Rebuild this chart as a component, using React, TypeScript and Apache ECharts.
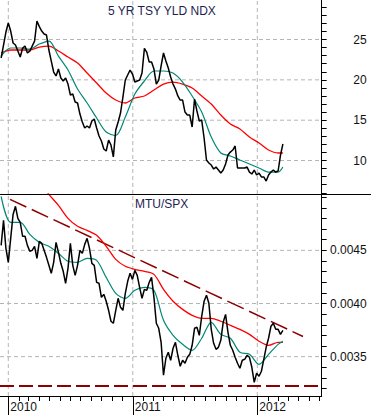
import React, { useEffect, useRef } from "react";
import * as echarts from "echarts";

// Weekly observations, first one on 2009-12-11
const startDate = "2009-12-11";

const tsyYield = [
  22.71, 24.32, 25.93, 27.05, 26.05, 24.57, 24.32, 23.57, 22.83, 23.95,
  24.19, 23.33, 23.57, 24.19, 24.81, 27.3, 26.6, 26.05, 25.68, 25.56,
  23.7, 22.33, 20.97, 20.48, 21.34, 20.23, 19.86, 20.23, 19.48, 18.12,
  18.24, 17.25, 17.13, 15.76, 14.77, 14.03, 14.28, 14.03, 14.9, 15.14,
  14.03, 13.04, 12.42, 11.43, 11.18, 12.54, 11.92, 10.45, 13.78, 14.77,
  15.89, 17.87, 19.98, 20.6, 21.22, 20.72, 19.73, 19.86, 19.98, 20.85,
  23.9, 23.4, 22.21, 22.21, 21.34, 19.48, 19.98, 21.72, 23.33, 22.33,
  21.47, 20.35, 19.48, 18.86, 18.0, 17.5, 17.5, 16.01, 15.64, 15.64,
  14.15, 17.62, 16.14, 14.9, 15.02, 12.79, 10.06, 9.69, 9.44, 8.95,
  9.19, 8.82, 8.45, 8.82, 9.57, 10.68, 11.05, 11.3, 11.8, 9.07,
  9.07, 9.07, 9.07, 9.19, 8.57, 8.33, 8.82, 8.2, 8.45, 7.96,
  7.96, 7.46, 8.2, 8.57, 8.82, 8.57, 8.7, 10.68, 12.05,
];

const mtuSpx = [
  0.004547, 0.004782, 0.004519, 0.004387, 0.004613, 0.004838, 0.004914, 0.004801, 0.004763, 0.004632,
  0.004632, 0.004547, 0.004491, 0.0045, 0.004538, 0.004425, 0.004585, 0.004566, 0.0045, 0.004434,
  0.004359, 0.004284, 0.004387, 0.004575, 0.004481, 0.004378, 0.004303, 0.00419, 0.004331, 0.004566,
  0.004359, 0.004265, 0.004359, 0.0045, 0.004472, 0.004556, 0.004613, 0.004519, 0.004378, 0.004359,
  0.004199, 0.00419, 0.004058, 0.004086, 0.004021, 0.003936, 0.003833, 0.003814, 0.003936, 0.004049,
  0.003964, 0.003936, 0.004096, 0.004209, 0.004284, 0.004227, 0.004312, 0.004265, 0.004152, 0.004049,
  0.004133, 0.004124, 0.004199, 0.004246, 0.004058, 0.003814, 0.003767, 0.003635, 0.003325, 0.003485,
  0.003541, 0.003466, 0.003579, 0.003635, 0.003513, 0.00341, 0.003466, 0.003438, 0.003494, 0.003522,
  0.003607, 0.003767, 0.003776, 0.003701, 0.00388, 0.004021, 0.004077, 0.004002, 0.003757, 0.003626,
  0.003569, 0.003588, 0.003654, 0.003823, 0.003898, 0.003729, 0.003607, 0.00356, 0.003494, 0.003438,
  0.003391, 0.003466, 0.003475, 0.003513, 0.003494, 0.0034, 0.003259, 0.003344, 0.003316, 0.003363,
  0.003475, 0.003588, 0.003673, 0.003786, 0.003814, 0.003757, 0.003757, 0.00371, 0.003748,
];

// Moving averages, read every 4th week (week index list)
const maWeeks = [0, 4, 8, 12, 16, 20, 24, 28, 32, 36, 40, 44, 48, 52, 56, 60, 64, 68, 72, 76, 80, 84, 88, 92, 96, 100, 104, 108, 112, 116, 118];

const tsyFastMA = [
  22.95, 23.95, 23.95, 23.82, 24.44, 24.81, 22.95, 21.22, 18.86, 17.13, 15.27, 13.53, 13.1, 15.39, 18.24, 19.86,
  21.1, 21.1, 20.85, 19.73, 18.0, 16.01, 12.91, 10.93, 10.56, 10.06, 9.57, 9.07, 8.57, 8.57, 9.19,
];
const tsySlowMA = [
  23.33, 23.7, 23.7, 23.7, 24.07, 24.19, 23.57, 22.83, 22.09, 20.85, 19.61, 18.37, 17.5, 17.13, 17.75, 18.0,
  18.74, 19.48, 19.73, 19.48, 18.99, 18.0, 17.0, 15.64, 14.53, 13.91, 12.91, 12.17, 11.3, 10.93, 10.93,
];
const mtuFastMA = [
  0.005008, 0.004763, 0.004763, 0.00465, 0.004575, 0.004538, 0.004472, 0.004397, 0.004387, 0.004425, 0.004406,
  0.004246, 0.004096, 0.004049, 0.004124, 0.004152, 0.004124, 0.003842, 0.003701, 0.003616, 0.00356, 0.003673,
  0.003823, 0.00371, 0.003673, 0.003541, 0.003522, 0.003428, 0.003522, 0.003616, 0.003645,
];
const mtuSlowMA = [
  null, null, null, null, 0.005158, 0.005026, 0.004923, 0.004801, 0.004726, 0.004688, 0.004641, 0.004538,
  0.004415, 0.00435, 0.004321, 0.004303, 0.004274, 0.004133, 0.004021, 0.003945, 0.003889, 0.003861, 0.003861,
  0.003833, 0.003795, 0.003757, 0.00371, 0.003645, 0.003607, 0.003635, 0.003635,
];

const trendDates = ["2010-01-06", "2012-05-14"];
const trendValues = [0.00498, 0.00369];
const supportLevel = 0.003225;

const yearLabels = [2010, 2011, 2012];
const tsyLabels = [10, 15, 20, 25];
const mtuLabels = [0.0035, 0.004, 0.0045];
const topTitle = "5 YR TSY YLD NDX";
const bottomTitle = "MTU/SPX";

const DAY = 86400000;
const ts = (s: string) => Date.parse(s + "T00:00:00Z");
const weekTs = (i: number) => ts(startDate) + i * 7 * DAY;

export default function App() {
  const ref = useRef<HTMLDivElement>(null);
  useEffect(() => {
    if (!ref.current) return;
    const chart = echarts.init(ref.current, null, { renderer: "svg" });
    const xMin = Date.UTC(2009, 11, 7, 16);
    const xMax = Date.UTC(2012, 6, 7, 19);
    const topMin = 5.85;
    const topMax = 29.9;
    const botMin = 0.00313;
    const botMax = 0.00503;
    const yearTs = yearLabels.map((y) => Date.UTC(y, 0, 1));
    const monthTs: number[] = [];
    for (let y = 2010; y <= 2012; y++) {
      for (let m = 0; m < 12; m++) {
        const t = Date.UTC(y, m, 1);
        if (t > xMin && t < xMax) monthTs.push(t);
      }
    }
    const tsyTicks: number[] = [];
    for (let v = 6; v <= 29; v++) tsyTicks.push(v);
    const mtuTicks: number[] = [];
    for (let k = 32; k <= 50; k++) mtuTicks.push(k / 10000);

    const font = "Liberation Sans, Arial, sans-serif";
    const gridStyle = { color: "#b4b4b4", type: [4, 3] as any, width: 1 };
    const maroon = "#8b0000";

    const seg = (xi: number, yi: number, pts: number[][], style: any, z = 1) => ({
      type: "line",
      xAxisIndex: xi,
      yAxisIndex: yi,
      data: pts,
      silent: true,
      showSymbol: false,
      z,
      lineStyle: style,
    });

    const gridSeries: any[] = [];
    tsyLabels.forEach((v) => gridSeries.push(seg(0, 0, [[xMin, v], [xMax, v]], gridStyle)));
    yearTs.forEach((t) => gridSeries.push(seg(0, 0, [[t, topMin], [t, topMax]], gridStyle)));
    mtuLabels.forEach((v) => gridSeries.push(seg(1, 1, [[xMin, v], [xMax, v]], gridStyle)));
    yearTs.forEach((t) => gridSeries.push(seg(1, 1, [[t, botMin], [t, botMax]], gridStyle)));
    gridSeries.push(
      seg(1, 1, [[xMin, supportLevel], [xMax, supportLevel]], { color: maroon, width: 2, type: [14, 5] }, 2)
    );

    const labelStyle = { fontSize: 12, color: "#111", fontFamily: font };

    const option: any = {
      animation: false,
      textStyle: { fontFamily: font },
      title: [
        {
          text: topTitle,
          left: 108,
          top: 5,
          padding: 0,
          textStyle: { fontSize: 12, fontWeight: "normal", color: "#1e1e50", fontFamily: font },
        },
        {
          text: bottomTitle,
          left: 135,
          top: 198,
          padding: 0,
          textStyle: { fontSize: 12, fontWeight: "normal", color: "#1e1e50", fontFamily: font },
        },
      ],
      grid: [
        { left: 0, right: 49.3, top: 0, height: 194 },
        { left: 0, right: 49.3, top: 194, height: 202 },
      ],
      xAxis: [
        {
          type: "value",
          gridIndex: 0,
          position: "bottom",
          min: xMin,
          max: xMax,
          axisLine: { show: false },
          axisTick: { show: false },
          axisLabel: { show: false },
          splitLine: { show: false },
        },
        {
          type: "value",
          gridIndex: 1,
          position: "bottom",
          min: xMin,
          max: xMax,
          axisLine: { show: true, onZero: false, lineStyle: { color: "#000", width: 1 } },
          axisTick: { show: true, customValues: monthTs, length: 5, lineStyle: { color: "#000" } },
          axisLabel: { show: false },
          splitLine: { show: false },
        },
        {
          type: "value",
          gridIndex: 1,
          position: "bottom",
          offset: 0,
          min: xMin,
          max: xMax,
          axisLine: { show: false, onZero: false },
          axisTick: { show: true, customValues: yearTs, length: 20, lineStyle: { color: "#000" } },
          axisLabel: {
            show: true,
            customValues: yearTs,
            formatter: (v: number) => String(new Date(v).getUTCFullYear()),
            align: "left",
            margin: 5,
            padding: [0, 0, 0, 2],
            ...labelStyle,
          },
          splitLine: { show: false },
        },
      ],
      yAxis: [
        {
          type: "value",
          gridIndex: 0,
          position: "right",
          min: topMin,
          max: topMax,
          axisLine: { show: true, lineStyle: { color: "#000", width: 1 } },
          axisTick: { show: true, customValues: tsyTicks, length: 5, lineStyle: { color: "#000" } },
          axisLabel: {
            show: true,
            customValues: tsyLabels,
            align: "right",
            margin: 45,
            ...labelStyle,
          },
          splitLine: { show: false },
        },
        {
          type: "value",
          gridIndex: 1,
          position: "right",
          min: botMin,
          max: botMax,
          axisLine: { show: true, lineStyle: { color: "#000", width: 1 } },
          axisTick: { show: true, customValues: mtuTicks, length: 5, lineStyle: { color: "#000" } },
          axisLabel: {
            show: true,
            customValues: mtuLabels,
            formatter: (v: number) => v.toFixed(4),
            align: "right",
            margin: 45,
            ...labelStyle,
          },
          splitLine: { show: false },
        },
      ],
      graphic: [
        {
          type: "line",
          shape: { x1: 0, y1: 194.5, x2: 371, y2: 194.5 },
          style: { stroke: "#000", lineWidth: 1 },
          z: 100,
        },
      ],
      series: [
        ...gridSeries,
        {
          type: "line",
          xAxisIndex: 0,
          yAxisIndex: 0,
          data: maWeeks.map((w, k) => [weekTs(w), tsySlowMA[k]]),
          showSymbol: false,
          smooth: 0.3,
          z: 3,
          lineStyle: { color: "#ff0000", width: 1.3 },
        },
        {
          type: "line",
          xAxisIndex: 0,
          yAxisIndex: 0,
          data: maWeeks.map((w, k) => [weekTs(w), tsyFastMA[k]]),
          showSymbol: false,
          smooth: 0.3,
          z: 3,
          lineStyle: { color: "#008878", width: 1.2 },
        },
        {
          type: "line",
          xAxisIndex: 0,
          yAxisIndex: 0,
          data: tsyYield.map((v, i) => [weekTs(i), v]),
          showSymbol: false,
          z: 4,
          lineStyle: { color: "#000", width: 1.5 },
        },
        {
          type: "line",
          xAxisIndex: 1,
          yAxisIndex: 1,
          data: trendDates.map((d, k) => [ts(d), trendValues[k]]),
          showSymbol: false,
          z: 2,
          lineStyle: { color: maroon, width: 1.5, type: [18, 6] },
        },
        {
          type: "line",
          xAxisIndex: 1,
          yAxisIndex: 1,
          data: maWeeks.map((w, k) => [weekTs(w), mtuSlowMA[k]]),
          showSymbol: false,
          smooth: 0.3,
          z: 3,
          lineStyle: { color: "#ff0000", width: 1.3 },
        },
        {
          type: "line",
          xAxisIndex: 1,
          yAxisIndex: 1,
          data: maWeeks.map((w, k) => [weekTs(w), mtuFastMA[k]]),
          showSymbol: false,
          smooth: 0.3,
          z: 3,
          lineStyle: { color: "#008878", width: 1.2 },
        },
        {
          type: "line",
          xAxisIndex: 1,
          yAxisIndex: 1,
          data: mtuSpx.map((v, i) => [weekTs(i), v]),
          showSymbol: false,
          z: 4,
          lineStyle: { color: "#000", width: 1.5 },
        },
      ],
    };
    chart.setOption(option);
    return () => chart.dispose();
  }, []);
  return (
    <div
      ref={ref}
      style={{ position: "absolute", left: 0, top: 0, width: 371, height: 415, background: "#fff" }}
    />
  );
}
